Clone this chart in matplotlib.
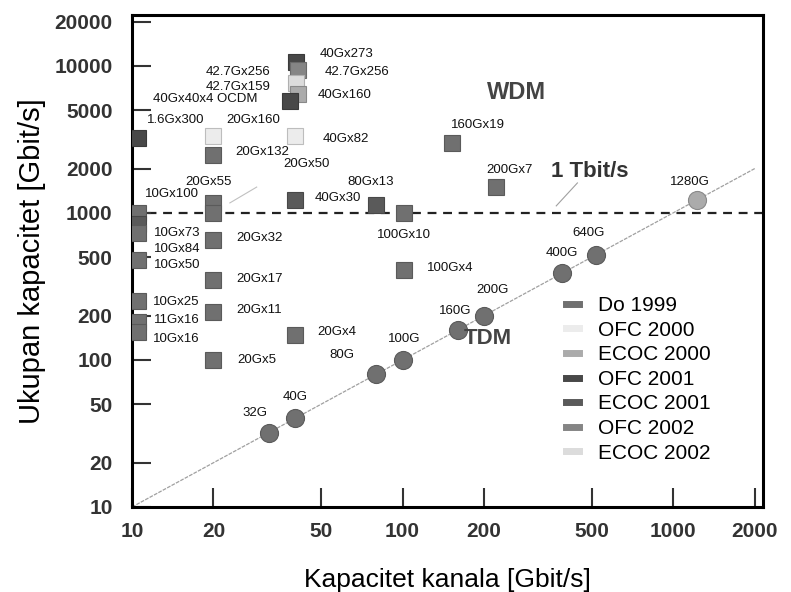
import matplotlib
matplotlib.use('Agg')
import matplotlib.pyplot as plt
from matplotlib.lines import Line2D
from matplotlib.ticker import NullLocator

plt.rcParams['font.family'] = ['Liberation Sans', 'DejaVu Sans']

# legend series
series_names = ['Do 1999', 'OFC 2000', 'ECOC 2000', 'OFC 2001', 'ECOC 2001', 'OFC 2002', 'ECOC 2002']
series_colors = ['#707070', '#ececec', '#ababab', '#484848', '#5a5a5a', '#858585', '#dcdcdc']

# WDM systems: channel rate [Gbit/s], total capacity [Gbit/s], series
wdm_rate = [10.5, 10.5, 10.5, 10.5, 10.5, 10.5, 10.5, 10.5,
            20, 20, 20, 20, 20, 20, 20, 20,
            40, 40, 40, 40.3, 41, 40.5, 41, 38.3,
            80, 101, 101, 153, 222]
wdm_total = [1000, 840, 730, 480, 250, 180, 155, 3240,
             1170, 1000, 655, 350, 212, 100, 3330, 2480,
             148, 1224, 3330, 10640, 9400, 7650, 6440, 5780,
             1130, 1000, 410, 2990, 1500]
wdm_series = ['Do 1999', 'ECOC 2001', 'Do 1999', 'Do 1999', 'Do 1999', 'Do 1999', 'Do 1999', 'OFC 2001',
              'Do 1999', 'Do 1999', 'Do 1999', 'Do 1999', 'Do 1999', 'Do 1999', 'OFC 2000', 'Do 1999',
              'Do 1999', 'ECOC 2001', 'OFC 2000', 'OFC 2001', 'OFC 2002', 'ECOC 2002', 'ECOC 2000', 'OFC 2001',
              'ECOC 2001', 'Do 1999', 'Do 1999', 'Do 1999', 'Do 1999']

# TDM systems: single channel, rate = capacity
tdm_rate = [32, 40, 80, 100, 160, 200, 390, 520, 1230]
tdm_series = ['Do 1999'] * 8 + ['ECOC 2000']

# point labels (text, left x, centre y) in data units
wdm_labels = [
    ('40Gx273', 49.4, 12070), ('42.7Gx256', 51.5, 9100), ('42.7Gx256', 18.75, 9100),
    ('42.7Gx159', 18.75, 7200), ('40Gx40x4 OCDM', 11.95, 5970), ('40Gx160', 48.6, 6350),
    ('1.6Gx300', 11.36, 4290), ('20Gx160', 22.4, 4290), ('40Gx82', 50.7, 3190),
    ('20Gx132', 24.0, 2600), ('20Gx50', 36.1, 2155), ('20Gx55', 15.7, 1625),
    ('10Gx100', 11.17, 1346), ('40Gx30', 47.3, 1265), ('80Gx13', 62.7, 1625),
    ('100Gx10', 80.2, 708), ('160Gx19', 151.6, 3970), ('200Gx7', 204, 1962),
    ('100Gx4', 122.6, 422), ('10Gx73', 12.05, 731), ('10Gx84', 12.05, 569),
    ('10Gx50', 12.05, 443), ('20Gx32', 24.4, 676), ('20Gx17', 24.2, 356),
    ('10Gx25', 11.95, 248), ('20Gx11', 24.2, 219), ('11Gx16', 12.05, 187),
    ('20Gx4', 48.6, 155), ('10Gx16', 11.95, 139), ('20Gx5', 24.6, 100),
]
tdm_labels = [
    ('32G', 25.7, 43.6), ('40G', 36.1, 56.0), ('80G', 53.8, 108), ('100G', 88.0, 139),
    ('160G', 136.9, 215), ('200G', 187.5, 299), ('400G', 337, 534), ('640G', 424, 731),
    ('1280G', 975, 1625),
]

x_ticks = [10, 20, 50, 100, 200, 500, 1000, 2000]
y_ticks = [10, 20, 50, 100, 200, 500, 1000, 2000, 5000, 10000, 20000]

color_of = dict(zip(series_names, series_colors))


def darker(c, f=0.8):
    r, g, b = matplotlib.colors.to_rgb(c)
    return (r * f, g * f, b * f)


fig = plt.figure(figsize=(7.91, 5.92), dpi=100)
ax = fig.add_axes([132 / 791, 85 / 592, 631 / 791, 492 / 592])
ax.set_xscale('log')
ax.set_yscale('log')
ax.set_xlim(10, 2150)
ax.set_ylim(10, 22200)

# TDM diagonal and 1 Tbit/s line
ax.plot([10, 2020], [10, 2020], color='#a0a0a0', lw=0.9, ls=(0, (3, 1)), zorder=1)
ax.axhline(1000, color='#222222', lw=1.6, ls=(0, (4, 3)), zorder=1)
ax.plot([23, 28.9], [1170, 1500], color='#c0c0c0', lw=0.8, zorder=1)
ax.plot([443, 370], [1600, 1117], color='#a0a0a0', lw=0.8, zorder=1)

for x, y, s in zip(wdm_rate, wdm_total, wdm_series):
    c = color_of[s]
    ax.plot(x, y, marker='s', ms=11.5, mfc=c, mec=darker(c), mew=0.8, ls='none', zorder=3)

for x, s in zip(tdm_rate, tdm_series):
    c = color_of[s]
    ax.plot(x, x, marker='o', ms=13, mfc=c, mec=darker(c), mew=0.8, ls='none', zorder=3)

for t, x, y in wdm_labels + tdm_labels:
    ax.text(x, y, t, fontsize=9.5, ha='left', va='center', color='#111111', zorder=4)

ax.text(206, 6550, 'WDM', fontsize=17, fontweight='bold', color='#444444', ha='left', va='center')
ax.text(169, 141, 'TDM', fontsize=16, fontweight='bold', color='#444444', ha='left', va='center')
ax.text(355, 1900, '1 Tbit/s', fontsize=16, fontweight='bold', color='#333333', ha='left', va='center')

handles = [Line2D([0], [0], color=c, lw=5) for c in series_colors]
ax.legend(handles, series_names, loc='upper left', bbox_to_anchor=(0.688, 0.429),
          frameon=False, fontsize=15, handlelength=0.6, handletextpad=0.95,
          labelspacing=0.27, borderpad=0, borderaxespad=0)

ax.xaxis.set_minor_locator(NullLocator())
ax.yaxis.set_minor_locator(NullLocator())
ax.set_xticks(x_ticks)
ax.set_xticklabels([str(v) for v in x_ticks])
ax.set_yticks(y_ticks)
ax.set_yticklabels([str(v) for v in y_ticks])
ax.tick_params(which='major', direction='in', length=14, width=1.5, color='#333333',
               labelsize=15, labelcolor='#333333')
ax.tick_params(axis='x', pad=11)
ax.tick_params(axis='y', pad=14)
for lab in ax.get_xticklabels() + ax.get_yticklabels():
    lab.set_fontweight('bold')
for sp in ax.spines.values():
    sp.set_linewidth(2.2)
    sp.set_color('black')

ax.set_xlabel('Kapacitet kanala [Gbit/s]', fontsize=19, labelpad=19)
ax.set_ylabel('Ukupan kapacitet [Gbit/s]', fontsize=21, labelpad=6)

fig.savefig('out.png', dpi=100)
